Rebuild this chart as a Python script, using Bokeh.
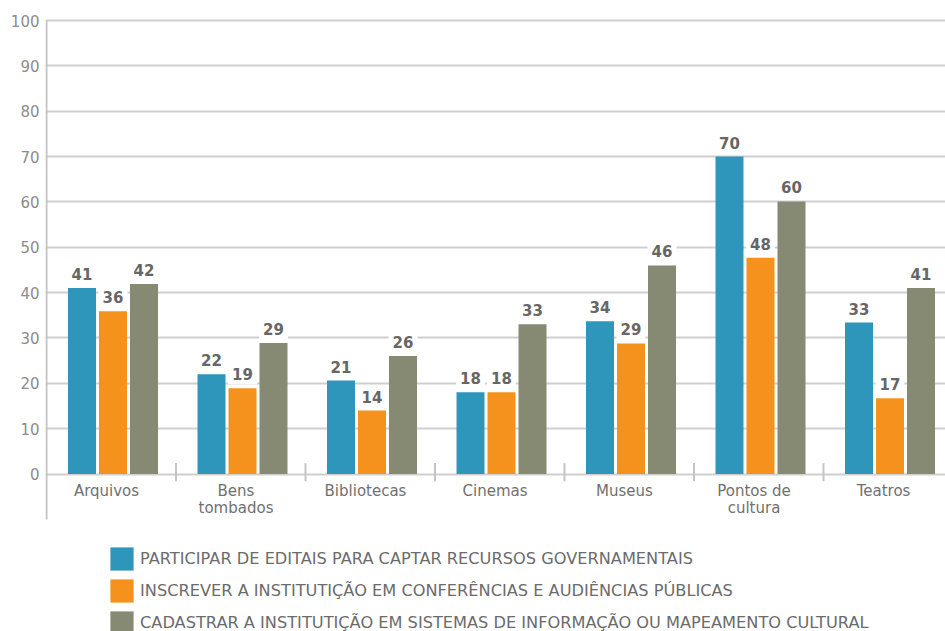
from bokeh.plotting import figure
from bokeh.models import Range1d, FixedTicker, ColumnDataSource, Label, Legend, LegendItem
from bokeh.core.properties import value
from bokeh.embed import file_html
from bokeh.resources import INLINE

categories = ["Arquivos", "Bens\ntombados", "Bibliotecas", "Cinemas", "Museus",
              "Pontos de\ncultura", "Teatros"]
series_names = [
    "PARTICIPAR DE EDITAIS PARA CAPTAR RECURSOS GOVERNAMENTAIS",
    "INSCREVER A INSTITUTIÇÃO EM CONFERÊNCIAS E AUDIÊNCIAS PÚBLICAS",
    "CADASTRAR A INSTITUTIÇÃO EM SISTEMAS DE INFORMAÇÃO OU MAPEAMENTO CULTURAL",
]
editais = [41.0, 22.0, 20.6, 18.0, 33.7, 70.0, 33.4]
conferencias = [35.9, 18.9, 14.0, 18.0, 28.8, 47.7, 16.7]
cadastro = [41.9, 28.9, 26.0, 33.0, 46.0, 60.1, 41.0]
editais_labels = ["41", "22", "21", "18", "34", "70", "33"]
conferencias_labels = ["36", "19", "14", "18", "29", "48", "17"]
cadastro_labels = ["42", "29", "26", "33", "46", "60", "41"]
y_ticks = [0, 10, 20, 30, 40, 50, 60, 70, 80, 90, 100]
colors = ["#2e96ba", "#f5921e", "#878a73"]

series_values = [editais, conferencias, cadastro]
series_labels = [editais_labels, conferencias_labels, cadastro_labels]

W, H = 945, 631
LEFT, TOP = 45, 18
CAT_PX = 129.5          # pixels per category
PX_PER_UNIT = 4.535     # pixels per y unit
ZERO_PX = 473.5         # screen y of value 0

x_start = -1.0 / CAT_PX
x_end = x_start + (W - LEFT) / CAT_PX
y_end = 100 + (20 - TOP) / PX_PER_UNIT
y_start = -(H - ZERO_PX) / PX_PER_UNIT

p = figure(width=W, height=H, x_range=Range1d(x_start, x_end), y_range=Range1d(y_start, y_end),
           output_backend="svg", toolbar_location=None, x_axis_location=None,
           min_border_left=LEFT, min_border_right=0, min_border_top=TOP, min_border_bottom=0)
p.outline_line_color = None
p.background_fill_color = "white"
p.border_fill_color = "white"

# y axis
yax = p.yaxis[0]
yax.ticker = FixedTicker(ticks=y_ticks)
yax.axis_line_color = None
yax.major_tick_line_color = None
yax.minor_tick_line_color = None
yax.major_tick_out = 0
yax.major_tick_in = 0
yax.major_label_standoff = 6
yax.major_label_text_font = "DejaVu Sans"
yax.major_label_text_font_size = "15px"
yax.major_label_text_color = "#8c8c8c"

p.xgrid.visible = False
p.ygrid.ticker = FixedTicker(ticks=y_ticks)
p.ygrid.grid_line_color = "#cfcfcf"
p.ygrid.grid_line_width = 2

# vertical axis line
axis_bottom = -(519 - ZERO_PX) / PX_PER_UNIT
p.segment(x0=[0], y0=[axis_bottom], x1=[0], y1=[100], line_color="#c4c4c4", line_width=2)

# category separators
sep_x = [i + 1 for i in range(len(categories) - 1)]
p.segment(x0=sep_x, y0=[-1.6] * len(sep_x), x1=sep_x, y1=[2.4] * len(sep_x),
          line_color="#c4c4c4", line_width=2)

bar_w = 28 / CAT_PX
step = 31 / CAT_PX
group_center = 66.5 / CAT_PX
renderers = []
for k, (vals, labs, col) in enumerate(zip(series_values, series_labels, colors)):
    xs = [i + group_center + (k - 1) * step for i in range(len(categories))]
    src = ColumnDataSource(dict(x=xs, top=vals))
    r = p.vbar(x="x", top="top", width=bar_w, bottom=0, source=src,
               fill_color=col, line_color=None)
    renderers.append(r)
    for x, v, t in zip(xs, vals, labs):
        p.add_layout(Label(x=x, y=v, text=t, y_offset=14, text_align="center",
                           text_baseline="alphabetic", text_font="DejaVu Sans",
                           text_font_style="bold", text_font_size="15px",
                           text_color="#666666", background_fill_color="white",
                           padding=4))

# category labels
cat_src = ColumnDataSource(dict(x=[i + 60 / CAT_PX for i in range(len(categories))],
                                y=[0] * len(categories), text=categories))
p.text(x="x", y="y", text="text", source=cat_src, text_align="center", text_baseline="top",
       y_offset=8, text_font=value("DejaVu Sans"), text_font_size="15px",
       text_color="#707070", text_line_height=0.92)

legend = Legend(items=[LegendItem(label=n, renderers=[r]) for n, r in zip(series_names, renderers)],
                location=(62, -6), orientation="vertical", glyph_width=29, glyph_height=29,
                spacing=3, label_standoff=4, padding=0, margin=0,
                border_line_color=None, background_fill_alpha=0,
                label_text_font="DejaVu Sans", label_text_font_size="16.2px",
                label_text_color="#6b6b6b")
p.add_layout(legend)

open("out.html", "w").write(file_html(p, INLINE))
